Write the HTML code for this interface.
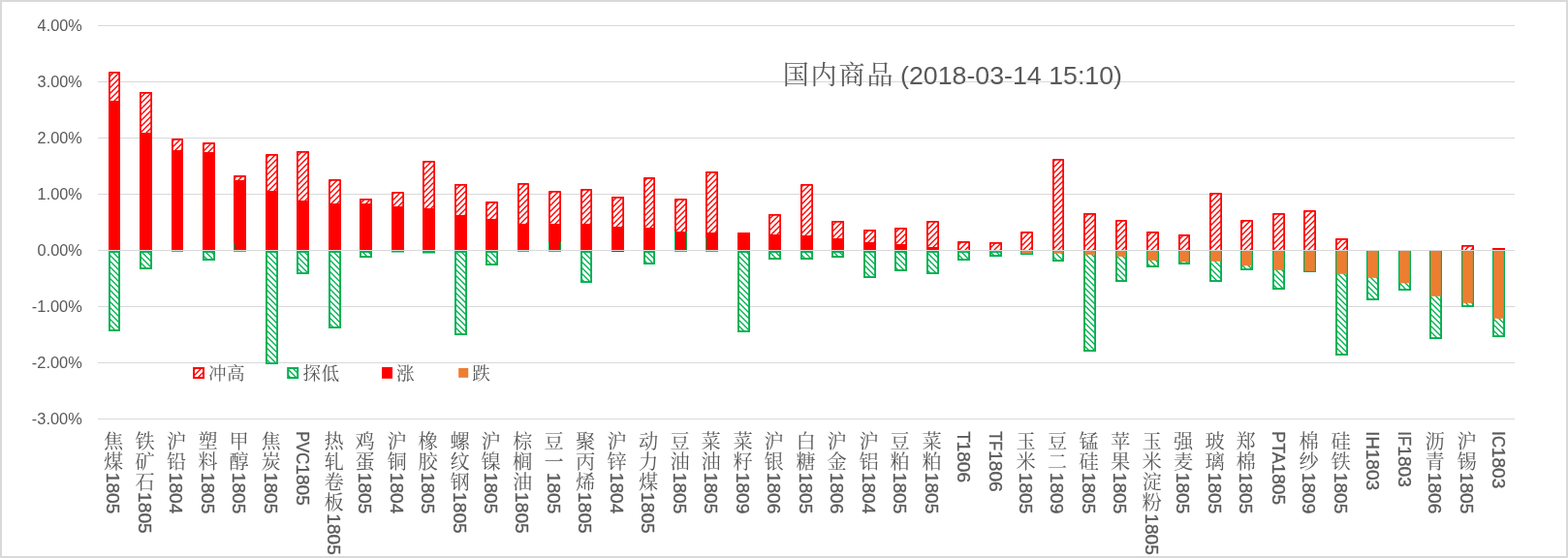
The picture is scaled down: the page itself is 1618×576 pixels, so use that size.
<!DOCTYPE html>
<html lang="zh"><head><meta charset="utf-8"><title>国内商品</title>
<style>html,body{margin:0;padding:0;background:#fff}body{width:1618px;height:576px;overflow:hidden}svg{display:block}text{font-family:"Liberation Sans",sans-serif;fill:#595959}.c{font-family:"Liberation Sans","Noto Serif CJK SC",serif;font-size:20.2px}.lg{font-family:"Liberation Sans","Noto Serif CJK SC",serif;font-size:18.6px}.tt{font-family:"Liberation Sans","Noto Serif CJK SC",serif;font-size:27px}</style></head><body>
<svg width="1618" height="576" viewBox="0 0 1618 576">
<defs>
<pattern id="pr" width="6" height="6" patternUnits="userSpaceOnUse"><rect width="6" height="6" fill="#fff"/><path d="M-1 7L7 -1M-1 1L1 -1M5 7L7 5" stroke="#ff0000" stroke-width="1.4"/></pattern>
<pattern id="pg" width="6" height="6" patternUnits="userSpaceOnUse"><rect width="6" height="6" fill="#fff"/><path d="M-1 -1L7 7M5 -1L7 1M-1 5L1 7" stroke="#00b050" stroke-width="1.35"/></pattern>
<filter id="gs" x="0" y="0" width="1618" height="576" filterUnits="userSpaceOnUse" color-interpolation-filters="sRGB"><feColorMatrix type="saturate" values="0"/></filter>
</defs>
<rect width="1618" height="576" fill="#fff"/>
<rect x="1" y="1" width="1616" height="574" fill="none" stroke="#d9d9d9" stroke-width="2"/>
<rect x="101" y="26" width="1462" height="1" fill="#d9d9d9"/>
<rect x="101" y="84" width="1462" height="1" fill="#d9d9d9"/>
<rect x="101" y="142" width="1462" height="1" fill="#d9d9d9"/>
<rect x="101" y="200" width="1462" height="1" fill="#d9d9d9"/>
<rect x="101" y="258" width="1462" height="1" fill="#d9d9d9"/>
<rect x="101" y="316" width="1462" height="1" fill="#d9d9d9"/>
<rect x="101" y="374" width="1462" height="1" fill="#d9d9d9"/>
<rect x="101" y="432" width="1462" height="1" fill="#d9d9d9"/>
<rect x="112.95" y="259.95" width="10.1" height="81.1" fill="url(#pg)" stroke="#00b050" stroke-width="1.9"/>
<rect x="112" y="104" width="12" height="154" fill="#ff0000"/>
<rect x="112" y="74" width="12" height="30" fill="url(#pr)"/>
<path d="M112.9 104V74.9H123.1V104" fill="none" stroke="#ff0000" stroke-width="1.8" stroke-linejoin="round"/>
<rect x="144.95" y="259.95" width="11.1" height="17.1" fill="url(#pg)" stroke="#00b050" stroke-width="1.9"/>
<rect x="144" y="137" width="13" height="121" fill="#ff0000"/>
<rect x="144" y="95" width="13" height="42" fill="url(#pr)"/>
<path d="M144.9 137V95.9H156.1V137" fill="none" stroke="#ff0000" stroke-width="1.8" stroke-linejoin="round"/>
<rect x="177" y="258.5" width="12" height="1.3" fill="#00b050"/>
<rect x="177" y="155" width="12" height="103" fill="#ff0000"/>
<rect x="177" y="143" width="12" height="12" fill="url(#pr)"/>
<path d="M177.9 155V143.9H188.1V155" fill="none" stroke="#ff0000" stroke-width="1.8" stroke-linejoin="round"/>
<rect x="209.95" y="259.95" width="11.1" height="8.1" fill="url(#pg)" stroke="#00b050" stroke-width="1.9"/>
<rect x="209" y="157" width="13" height="101" fill="#ff0000"/>
<rect x="209" y="147" width="13" height="10" fill="url(#pr)"/>
<path d="M209.9 157V147.9H221.1V157" fill="none" stroke="#ff0000" stroke-width="1.8" stroke-linejoin="round"/>
<rect x="241" y="258.5" width="13" height="1.3" fill="#00b050"/>
<rect x="241" y="186" width="13" height="72" fill="#ff0000"/>
<rect x="241" y="181" width="13" height="5" fill="url(#pr)"/>
<path d="M241.9 186V181.9H253.1V186" fill="none" stroke="#ff0000" stroke-width="1.8" stroke-linejoin="round"/>
<rect x="274.95" y="259.95" width="11.1" height="115.1" fill="url(#pg)" stroke="#00b050" stroke-width="1.9"/>
<rect x="274" y="197" width="13" height="61" fill="#ff0000"/>
<rect x="274" y="159" width="13" height="38" fill="url(#pr)"/>
<path d="M274.9 197V159.9H286.1V197" fill="none" stroke="#ff0000" stroke-width="1.8" stroke-linejoin="round"/>
<rect x="306.95" y="259.95" width="11.1" height="22.1" fill="url(#pg)" stroke="#00b050" stroke-width="1.9"/>
<rect x="306" y="207" width="13" height="51" fill="#ff0000"/>
<rect x="306" y="156" width="13" height="51" fill="url(#pr)"/>
<path d="M306.9 207V156.9H318.1V207" fill="none" stroke="#ff0000" stroke-width="1.8" stroke-linejoin="round"/>
<rect x="339.95" y="259.95" width="11.1" height="78.1" fill="url(#pg)" stroke="#00b050" stroke-width="1.9"/>
<rect x="339" y="210" width="13" height="48" fill="#ff0000"/>
<rect x="339" y="185" width="13" height="25" fill="url(#pr)"/>
<path d="M339.9 210V185.9H351.1V210" fill="none" stroke="#ff0000" stroke-width="1.8" stroke-linejoin="round"/>
<rect x="371.95" y="259.95" width="11.1" height="5.1" fill="url(#pg)" stroke="#00b050" stroke-width="1.9"/>
<rect x="371" y="210" width="13" height="48" fill="#ff0000"/>
<rect x="371" y="205" width="13" height="5" fill="url(#pr)"/>
<path d="M371.9 210V205.9H383.1V210" fill="none" stroke="#ff0000" stroke-width="1.8" stroke-linejoin="round"/>
<rect x="404" y="258.5" width="13" height="2" fill="#00b050"/>
<rect x="404" y="213" width="13" height="45" fill="#ff0000"/>
<rect x="404" y="198" width="13" height="15" fill="url(#pr)"/>
<path d="M404.9 213V198.9H416.1V213" fill="none" stroke="#ff0000" stroke-width="1.8" stroke-linejoin="round"/>
<rect x="436" y="258.5" width="13" height="3" fill="#00b050"/>
<rect x="436" y="215" width="13" height="43" fill="#ff0000"/>
<rect x="436" y="166" width="13" height="49" fill="url(#pr)"/>
<path d="M436.9 215V166.9H448.1V215" fill="none" stroke="#ff0000" stroke-width="1.8" stroke-linejoin="round"/>
<rect x="469.95" y="259.95" width="11.1" height="85.1" fill="url(#pg)" stroke="#00b050" stroke-width="1.9"/>
<rect x="469" y="222" width="13" height="36" fill="#ff0000"/>
<rect x="469" y="190" width="13" height="32" fill="url(#pr)"/>
<path d="M469.9 222V190.9H481.1V222" fill="none" stroke="#ff0000" stroke-width="1.8" stroke-linejoin="round"/>
<rect x="501.95" y="259.95" width="11.1" height="13.1" fill="url(#pg)" stroke="#00b050" stroke-width="1.9"/>
<rect x="501" y="226" width="13" height="32" fill="#ff0000"/>
<rect x="501" y="208" width="13" height="18" fill="url(#pr)"/>
<path d="M501.9 226V208.9H513.1V226" fill="none" stroke="#ff0000" stroke-width="1.8" stroke-linejoin="round"/>
<rect x="534" y="258.5" width="12" height="1.3" fill="#00b050"/>
<rect x="534" y="231" width="12" height="27" fill="#ff0000"/>
<rect x="534" y="189" width="12" height="42" fill="url(#pr)"/>
<path d="M534.9 231V189.9H545.1V231" fill="none" stroke="#ff0000" stroke-width="1.8" stroke-linejoin="round"/>
<rect x="566" y="258.5" width="13" height="1.3" fill="#00b050"/>
<rect x="566" y="231" width="13" height="27" fill="#ff0000"/>
<rect x="566" y="197" width="13" height="34" fill="url(#pr)"/>
<path d="M566.9 231V197.9H578.1V231" fill="none" stroke="#ff0000" stroke-width="1.8" stroke-linejoin="round"/>
<rect x="599.95" y="259.95" width="10.1" height="31.1" fill="url(#pg)" stroke="#00b050" stroke-width="1.9"/>
<rect x="599" y="231" width="12" height="27" fill="#ff0000"/>
<rect x="599" y="195" width="12" height="36" fill="url(#pr)"/>
<path d="M599.9 231V195.9H610.1V231" fill="none" stroke="#ff0000" stroke-width="1.8" stroke-linejoin="round"/>
<rect x="631" y="234" width="13" height="24" fill="#ff0000"/>
<rect x="631" y="203" width="13" height="31" fill="url(#pr)"/>
<path d="M631.9 234V203.9H643.1V234" fill="none" stroke="#ff0000" stroke-width="1.8" stroke-linejoin="round"/>
<rect x="664.95" y="259.95" width="10.1" height="12.1" fill="url(#pg)" stroke="#00b050" stroke-width="1.9"/>
<rect x="664" y="235" width="12" height="23" fill="#ff0000"/>
<rect x="664" y="183" width="12" height="52" fill="url(#pr)"/>
<path d="M664.9 235V183.9H675.1V235" fill="none" stroke="#ff0000" stroke-width="1.8" stroke-linejoin="round"/>
<rect x="696" y="258.5" width="13" height="1.3" fill="#00b050"/>
<rect x="696" y="239" width="13" height="19" fill="#ff0000"/>
<rect x="696" y="205" width="13" height="34" fill="url(#pr)"/>
<path d="M696.9 239V205.9H708.1V239" fill="none" stroke="#ff0000" stroke-width="1.8" stroke-linejoin="round"/>
<rect x="728" y="258.5" width="13" height="1.3" fill="#00b050"/>
<rect x="728" y="240" width="13" height="18" fill="#ff0000"/>
<rect x="728" y="177" width="13" height="63" fill="url(#pr)"/>
<path d="M728.9 240V177.9H740.1V240" fill="none" stroke="#ff0000" stroke-width="1.8" stroke-linejoin="round"/>
<rect x="761.95" y="259.95" width="11.1" height="82.1" fill="url(#pg)" stroke="#00b050" stroke-width="1.9"/>
<rect x="761" y="240" width="13" height="18" fill="#ff0000"/>
<rect x="793.95" y="259.95" width="11.1" height="7.1" fill="url(#pg)" stroke="#00b050" stroke-width="1.9"/>
<rect x="793" y="242" width="13" height="16" fill="#ff0000"/>
<rect x="793" y="221" width="13" height="21" fill="url(#pr)"/>
<path d="M793.9 242V221.9H805.1V242" fill="none" stroke="#ff0000" stroke-width="1.8" stroke-linejoin="round"/>
<rect x="826.95" y="259.95" width="11.1" height="7.1" fill="url(#pg)" stroke="#00b050" stroke-width="1.9"/>
<rect x="826" y="243" width="13" height="15" fill="#ff0000"/>
<rect x="826" y="190" width="13" height="53" fill="url(#pr)"/>
<path d="M826.9 243V190.9H838.1V243" fill="none" stroke="#ff0000" stroke-width="1.8" stroke-linejoin="round"/>
<rect x="858.95" y="259.95" width="11.1" height="5.1" fill="url(#pg)" stroke="#00b050" stroke-width="1.9"/>
<rect x="858" y="246" width="13" height="12" fill="#ff0000"/>
<rect x="858" y="228" width="13" height="18" fill="url(#pr)"/>
<path d="M858.9 246V228.9H870.1V246" fill="none" stroke="#ff0000" stroke-width="1.8" stroke-linejoin="round"/>
<rect x="891.95" y="259.95" width="11.1" height="26.1" fill="url(#pg)" stroke="#00b050" stroke-width="1.9"/>
<rect x="891" y="250" width="13" height="8" fill="#ff0000"/>
<rect x="891" y="237" width="13" height="13" fill="url(#pr)"/>
<path d="M891.9 250V237.9H903.1V250" fill="none" stroke="#ff0000" stroke-width="1.8" stroke-linejoin="round"/>
<rect x="923.95" y="259.95" width="11.1" height="19.1" fill="url(#pg)" stroke="#00b050" stroke-width="1.9"/>
<rect x="923" y="252" width="13" height="6" fill="#ff0000"/>
<rect x="923" y="235" width="13" height="17" fill="url(#pr)"/>
<path d="M923.9 252V235.9H935.1V252" fill="none" stroke="#ff0000" stroke-width="1.8" stroke-linejoin="round"/>
<rect x="956.95" y="259.95" width="11.1" height="22.1" fill="url(#pg)" stroke="#00b050" stroke-width="1.9"/>
<rect x="956" y="255" width="13" height="3" fill="#ff0000"/>
<rect x="956" y="228" width="13" height="27" fill="url(#pr)"/>
<path d="M956.9 255V228.9H968.1V255" fill="none" stroke="#ff0000" stroke-width="1.8" stroke-linejoin="round"/>
<rect x="988.95" y="259.95" width="11.1" height="8.1" fill="url(#pg)" stroke="#00b050" stroke-width="1.9"/>
<rect x="989.2" y="259" width="10.6" height="0.6" fill="#ed7d31"/>
<rect x="988" y="249" width="13" height="9" fill="url(#pr)"/>
<path d="M988.9 258V249.9H1000.1V258" fill="none" stroke="#ff0000" stroke-width="1.8" stroke-linejoin="round"/>
<rect x="1021.95" y="259.95" width="11.1" height="4.1" fill="url(#pg)" stroke="#00b050" stroke-width="1.9"/>
<rect x="1022.2" y="259" width="10.6" height="0.6" fill="#ed7d31"/>
<rect x="1021" y="250" width="13" height="8" fill="url(#pr)"/>
<path d="M1021.9 258V250.9H1033.1V258" fill="none" stroke="#ff0000" stroke-width="1.8" stroke-linejoin="round"/>
<rect x="1053.95" y="259.95" width="11.1" height="2.1" fill="url(#pg)" stroke="#00b050" stroke-width="1.9"/>
<rect x="1054.2" y="259" width="10.6" height="2.8" fill="#ed7d31"/>
<rect x="1053" y="239" width="13" height="19" fill="url(#pr)"/>
<path d="M1053.9 258V239.9H1065.1V258" fill="none" stroke="#ff0000" stroke-width="1.8" stroke-linejoin="round"/>
<rect x="1086.95" y="259.95" width="10.1" height="9.1" fill="url(#pg)" stroke="#00b050" stroke-width="1.9"/>
<rect x="1087.2" y="259" width="9.6" height="2.6" fill="#ed7d31"/>
<rect x="1086" y="164" width="12" height="94" fill="url(#pr)"/>
<path d="M1086.9 258V164.9H1097.1V258" fill="none" stroke="#ff0000" stroke-width="1.8" stroke-linejoin="round"/>
<rect x="1118.95" y="259.95" width="11.1" height="102.1" fill="url(#pg)" stroke="#00b050" stroke-width="1.9"/>
<rect x="1119.2" y="259" width="10.6" height="3.8" fill="#ed7d31"/>
<rect x="1118" y="220" width="13" height="38" fill="url(#pr)"/>
<path d="M1118.9 258V220.9H1130.1V258" fill="none" stroke="#ff0000" stroke-width="1.8" stroke-linejoin="round"/>
<rect x="1151.95" y="259.95" width="10.1" height="30.1" fill="url(#pg)" stroke="#00b050" stroke-width="1.9"/>
<rect x="1152.2" y="259" width="9.6" height="5.8" fill="#ed7d31"/>
<rect x="1151" y="227" width="12" height="31" fill="url(#pr)"/>
<path d="M1151.9 258V227.9H1162.1V258" fill="none" stroke="#ff0000" stroke-width="1.8" stroke-linejoin="round"/>
<rect x="1183.95" y="259.95" width="11.1" height="15.1" fill="url(#pg)" stroke="#00b050" stroke-width="1.9"/>
<rect x="1184.2" y="259" width="10.6" height="9.8" fill="#ed7d31"/>
<rect x="1183" y="239" width="13" height="19" fill="url(#pr)"/>
<path d="M1183.9 258V239.9H1195.1V258" fill="none" stroke="#ff0000" stroke-width="1.8" stroke-linejoin="round"/>
<rect x="1216.95" y="259.95" width="10.1" height="12.1" fill="url(#pg)" stroke="#00b050" stroke-width="1.9"/>
<rect x="1217.2" y="259" width="9.6" height="11.3" fill="#ed7d31"/>
<rect x="1216" y="242" width="12" height="16" fill="url(#pr)"/>
<path d="M1216.9 258V242.9H1227.1V258" fill="none" stroke="#ff0000" stroke-width="1.8" stroke-linejoin="round"/>
<rect x="1248.95" y="259.95" width="11.1" height="30.1" fill="url(#pg)" stroke="#00b050" stroke-width="1.9"/>
<rect x="1249.2" y="259" width="10.6" height="10.8" fill="#ed7d31"/>
<rect x="1248" y="199" width="13" height="59" fill="url(#pr)"/>
<path d="M1248.9 258V199.9H1260.1V258" fill="none" stroke="#ff0000" stroke-width="1.8" stroke-linejoin="round"/>
<rect x="1280.95" y="259.95" width="11.1" height="18.1" fill="url(#pg)" stroke="#00b050" stroke-width="1.9"/>
<rect x="1281.2" y="259" width="10.6" height="15.3" fill="#ed7d31"/>
<rect x="1280" y="227" width="13" height="31" fill="url(#pr)"/>
<path d="M1280.9 258V227.9H1292.1V258" fill="none" stroke="#ff0000" stroke-width="1.8" stroke-linejoin="round"/>
<rect x="1313.95" y="259.95" width="11.1" height="38.1" fill="url(#pg)" stroke="#00b050" stroke-width="1.9"/>
<rect x="1314.2" y="259" width="10.6" height="19.8" fill="#ed7d31"/>
<rect x="1313" y="220" width="13" height="38" fill="url(#pr)"/>
<path d="M1313.9 258V220.9H1325.1V258" fill="none" stroke="#ff0000" stroke-width="1.8" stroke-linejoin="round"/>
<rect x="1345.95" y="259.95" width="11.1" height="20.1" fill="url(#pg)" stroke="#00b050" stroke-width="1.9"/>
<rect x="1346.2" y="259" width="10.6" height="20.8" fill="#ed7d31"/>
<rect x="1345" y="217" width="13" height="41" fill="url(#pr)"/>
<path d="M1345.9 258V217.9H1357.1V258" fill="none" stroke="#ff0000" stroke-width="1.8" stroke-linejoin="round"/>
<rect x="1378.95" y="259.95" width="11.1" height="106.1" fill="url(#pg)" stroke="#00b050" stroke-width="1.9"/>
<rect x="1379.2" y="259" width="10.6" height="23.8" fill="#ed7d31"/>
<rect x="1378" y="246" width="13" height="12" fill="url(#pr)"/>
<path d="M1378.9 258V246.9H1390.1V258" fill="none" stroke="#ff0000" stroke-width="1.8" stroke-linejoin="round"/>
<rect x="1410.95" y="259.95" width="11.1" height="49.1" fill="url(#pg)" stroke="#00b050" stroke-width="1.9"/>
<rect x="1411.2" y="259" width="10.6" height="27.8" fill="#ed7d31"/>
<rect x="1443.95" y="259.95" width="11.1" height="39.1" fill="url(#pg)" stroke="#00b050" stroke-width="1.9"/>
<rect x="1444.2" y="259" width="10.6" height="33.3" fill="#ed7d31"/>
<rect x="1475.95" y="259.95" width="11.1" height="89.1" fill="url(#pg)" stroke="#00b050" stroke-width="1.9"/>
<rect x="1476.2" y="259" width="10.6" height="46.8" fill="#ed7d31"/>
<rect x="1508.95" y="259.95" width="11.1" height="56.1" fill="url(#pg)" stroke="#00b050" stroke-width="1.9"/>
<rect x="1509.2" y="259" width="10.6" height="53.8" fill="#ed7d31"/>
<rect x="1508" y="253" width="13" height="5" fill="url(#pr)"/>
<path d="M1508.9 258V253.9H1520.1V258" fill="none" stroke="#ff0000" stroke-width="1.8" stroke-linejoin="round"/>
<rect x="1540.95" y="259.95" width="11.1" height="87.1" fill="url(#pg)" stroke="#00b050" stroke-width="1.9"/>
<rect x="1541.2" y="259" width="10.6" height="69.8" fill="#ed7d31"/>
<rect x="1540" y="256" width="13" height="2" fill="#ff0000"/>
<rect x="631" y="259" width="13" height="1" fill="#ff0000"/>
<rect x="241" y="251" width="1" height="7.5" fill="#00b050"/>
<rect x="566" y="250" width="1" height="8.5" fill="#00b050"/>
<rect x="578" y="250" width="1" height="8.5" fill="#00b050"/>
<rect x="696" y="239" width="1" height="19.5" fill="#00b050"/>
<rect x="708" y="239" width="1" height="19.5" fill="#00b050"/>
<rect x="728" y="245" width="1" height="13.5" fill="#00b050"/>
<rect x="101" y="258" width="1462" height="1" fill="#d9d9d9"/>
<rect x="200" y="380" width="10" height="10" fill="url(#pr)" stroke="#ff0000" stroke-width="2"/>
<rect x="297.2" y="380" width="10" height="10" fill="url(#pg)" stroke="#00b050" stroke-width="2"/>
<rect x="394" y="379" width="11" height="11.8" fill="#ff0000"/>
<rect x="473.2" y="380" width="10" height="9.8" fill="#ed7d31"/>
<g filter="url(#gs)">
<text x="84.8" y="32.4" font-size="16.6" text-anchor="end" textLength="46.2" lengthAdjust="spacingAndGlyphs">4.00%</text>
<text x="84.8" y="90.4" font-size="16.6" text-anchor="end" textLength="46.2" lengthAdjust="spacingAndGlyphs">3.00%</text>
<text x="84.8" y="148.4" font-size="16.6" text-anchor="end" textLength="46.2" lengthAdjust="spacingAndGlyphs">2.00%</text>
<text x="84.8" y="206.4" font-size="16.6" text-anchor="end" textLength="46.2" lengthAdjust="spacingAndGlyphs">1.00%</text>
<text x="84.8" y="264.4" font-size="16.6" text-anchor="end" textLength="46.2" lengthAdjust="spacingAndGlyphs">0.00%</text>
<text x="84.8" y="322.4" font-size="16.6" text-anchor="end" textLength="52" lengthAdjust="spacingAndGlyphs">-1.00%</text>
<text x="84.8" y="380.4" font-size="16.6" text-anchor="end" textLength="52" lengthAdjust="spacingAndGlyphs">-2.00%</text>
<text x="84.8" y="438.4" font-size="16.6" text-anchor="end" textLength="52" lengthAdjust="spacingAndGlyphs">-3.00%</text>
<text class="c" x="107.1" y="462.8">焦<tspan x="107.1" dy="21">煤</tspan></text>
<g transform="translate(110.3 487.8) rotate(90)" font-size="18.8" stroke="#595959" stroke-width="0.35"><text x="0" textLength="42.6" lengthAdjust="spacingAndGlyphs">1805</text></g>
<text class="c" x="139.6" y="462.8">铁<tspan x="139.6" dy="21">矿</tspan><tspan x="139.6" dy="21">石</tspan></text>
<g transform="translate(142.8 508.1) rotate(90)" font-size="18.8" stroke="#595959" stroke-width="0.35"><text x="0" textLength="42.6" lengthAdjust="spacingAndGlyphs">1805</text></g>
<text class="c" x="172.1" y="462.8">沪<tspan x="172.1" dy="21">铅</tspan></text>
<g transform="translate(175.3 487.8) rotate(90)" font-size="18.8" stroke="#595959" stroke-width="0.35"><text x="0" textLength="42.6" lengthAdjust="spacingAndGlyphs">1804</text></g>
<text class="c" x="204.6" y="462.8">塑<tspan x="204.6" dy="21">料</tspan></text>
<g transform="translate(207.8 487.8) rotate(90)" font-size="18.8" stroke="#595959" stroke-width="0.35"><text x="0" textLength="42.6" lengthAdjust="spacingAndGlyphs">1805</text></g>
<text class="c" x="236.6" y="462.8">甲<tspan x="236.6" dy="21">醇</tspan></text>
<g transform="translate(239.8 487.8) rotate(90)" font-size="18.8" stroke="#595959" stroke-width="0.35"><text x="0" textLength="42.6" lengthAdjust="spacingAndGlyphs">1805</text></g>
<text class="c" x="269.6" y="462.8">焦<tspan x="269.6" dy="21">炭</tspan></text>
<g transform="translate(272.8 487.8) rotate(90)" font-size="18.8" stroke="#595959" stroke-width="0.35"><text x="0" textLength="42.6" lengthAdjust="spacingAndGlyphs">1805</text></g>
<g transform="translate(305.9 445.3) rotate(90)" font-size="18.8" stroke="#595959" stroke-width="0.35"><text textLength="33.98" lengthAdjust="spacingAndGlyphs">PVC</text><text x="33.98" textLength="42.6" lengthAdjust="spacingAndGlyphs">1805</text></g>
<text class="c" x="334.6" y="462.8">热<tspan x="334.6" dy="21">轧</tspan><tspan x="334.6" dy="21">卷</tspan><tspan x="334.6" dy="21">板</tspan></text>
<g transform="translate(337.8 530.3) rotate(90)" font-size="18.8" stroke="#595959" stroke-width="0.35"><text x="0" textLength="42.6" lengthAdjust="spacingAndGlyphs">1805</text></g>
<text class="c" x="366.6" y="462.8">鸡<tspan x="366.6" dy="21">蛋</tspan></text>
<g transform="translate(369.8 487.8) rotate(90)" font-size="18.8" stroke="#595959" stroke-width="0.35"><text x="0" textLength="42.6" lengthAdjust="spacingAndGlyphs">1805</text></g>
<text class="c" x="399.6" y="462.8">沪<tspan x="399.6" dy="21">铜</tspan></text>
<g transform="translate(402.8 487.8) rotate(90)" font-size="18.8" stroke="#595959" stroke-width="0.35"><text x="0" textLength="42.6" lengthAdjust="spacingAndGlyphs">1804</text></g>
<text class="c" x="431.6" y="462.8">橡<tspan x="431.6" dy="21">胶</tspan></text>
<g transform="translate(434.8 487.8) rotate(90)" font-size="18.8" stroke="#595959" stroke-width="0.35"><text x="0" textLength="42.6" lengthAdjust="spacingAndGlyphs">1805</text></g>
<text class="c" x="464.6" y="462.8">螺<tspan x="464.6" dy="21">纹</tspan><tspan x="464.6" dy="21">钢</tspan></text>
<g transform="translate(467.8 508.1) rotate(90)" font-size="18.8" stroke="#595959" stroke-width="0.35"><text x="0" textLength="42.6" lengthAdjust="spacingAndGlyphs">1805</text></g>
<text class="c" x="496.6" y="462.8">沪<tspan x="496.6" dy="21">镍</tspan></text>
<g transform="translate(499.8 487.8) rotate(90)" font-size="18.8" stroke="#595959" stroke-width="0.35"><text x="0" textLength="42.6" lengthAdjust="spacingAndGlyphs">1805</text></g>
<text class="c" x="529.1" y="462.8">棕<tspan x="529.1" dy="21">榈</tspan><tspan x="529.1" dy="21">油</tspan></text>
<g transform="translate(532.3 508.1) rotate(90)" font-size="18.8" stroke="#595959" stroke-width="0.35"><text x="0" textLength="42.6" lengthAdjust="spacingAndGlyphs">1805</text></g>
<text class="c" x="561.6" y="462.8">豆<tspan x="561.6" dy="21">一</tspan></text>
<g transform="translate(564.8 487.8) rotate(90)" font-size="18.8" stroke="#595959" stroke-width="0.35"><text x="0" textLength="42.6" lengthAdjust="spacingAndGlyphs">1805</text></g>
<text class="c" x="594.1" y="462.8">聚<tspan x="594.1" dy="21">丙</tspan><tspan x="594.1" dy="21">烯</tspan></text>
<g transform="translate(597.3 508.1) rotate(90)" font-size="18.8" stroke="#595959" stroke-width="0.35"><text x="0" textLength="42.6" lengthAdjust="spacingAndGlyphs">1805</text></g>
<text class="c" x="626.6" y="462.8">沪<tspan x="626.6" dy="21">锌</tspan></text>
<g transform="translate(629.8 487.8) rotate(90)" font-size="18.8" stroke="#595959" stroke-width="0.35"><text x="0" textLength="42.6" lengthAdjust="spacingAndGlyphs">1804</text></g>
<text class="c" x="659.1" y="462.8">动<tspan x="659.1" dy="21">力</tspan><tspan x="659.1" dy="21">煤</tspan></text>
<g transform="translate(662.3 508.1) rotate(90)" font-size="18.8" stroke="#595959" stroke-width="0.35"><text x="0" textLength="42.6" lengthAdjust="spacingAndGlyphs">1805</text></g>
<text class="c" x="691.6" y="462.8">豆<tspan x="691.6" dy="21">油</tspan></text>
<g transform="translate(694.8 487.8) rotate(90)" font-size="18.8" stroke="#595959" stroke-width="0.35"><text x="0" textLength="42.6" lengthAdjust="spacingAndGlyphs">1805</text></g>
<text class="c" x="723.6" y="462.8">菜<tspan x="723.6" dy="21">油</tspan></text>
<g transform="translate(726.8 487.8) rotate(90)" font-size="18.8" stroke="#595959" stroke-width="0.35"><text x="0" textLength="42.6" lengthAdjust="spacingAndGlyphs">1805</text></g>
<text class="c" x="756.6" y="462.8">菜<tspan x="756.6" dy="21">籽</tspan></text>
<g transform="translate(759.8 487.8) rotate(90)" font-size="18.8" stroke="#595959" stroke-width="0.35"><text x="0" textLength="42.6" lengthAdjust="spacingAndGlyphs">1809</text></g>
<text class="c" x="788.6" y="462.8">沪<tspan x="788.6" dy="21">银</tspan></text>
<g transform="translate(791.8 487.8) rotate(90)" font-size="18.8" stroke="#595959" stroke-width="0.35"><text x="0" textLength="42.6" lengthAdjust="spacingAndGlyphs">1806</text></g>
<text class="c" x="821.6" y="462.8">白<tspan x="821.6" dy="21">糖</tspan></text>
<g transform="translate(824.8 487.8) rotate(90)" font-size="18.8" stroke="#595959" stroke-width="0.35"><text x="0" textLength="42.6" lengthAdjust="spacingAndGlyphs">1805</text></g>
<text class="c" x="853.6" y="462.8">沪<tspan x="853.6" dy="21">金</tspan></text>
<g transform="translate(856.8 487.8) rotate(90)" font-size="18.8" stroke="#595959" stroke-width="0.35"><text x="0" textLength="42.6" lengthAdjust="spacingAndGlyphs">1806</text></g>
<text class="c" x="886.6" y="462.8">沪<tspan x="886.6" dy="21">铝</tspan></text>
<g transform="translate(889.8 487.8) rotate(90)" font-size="18.8" stroke="#595959" stroke-width="0.35"><text x="0" textLength="42.6" lengthAdjust="spacingAndGlyphs">1804</text></g>
<text class="c" x="918.6" y="462.8">豆<tspan x="918.6" dy="21">粕</tspan></text>
<g transform="translate(921.8 487.8) rotate(90)" font-size="18.8" stroke="#595959" stroke-width="0.35"><text x="0" textLength="42.6" lengthAdjust="spacingAndGlyphs">1805</text></g>
<text class="c" x="951.6" y="462.8">菜<tspan x="951.6" dy="21">粕</tspan></text>
<g transform="translate(954.8 487.8) rotate(90)" font-size="18.8" stroke="#595959" stroke-width="0.35"><text x="0" textLength="42.6" lengthAdjust="spacingAndGlyphs">1805</text></g>
<g transform="translate(987.9 445.3) rotate(90)" font-size="18.8" stroke="#595959" stroke-width="0.35"><text>T</text><text x="10.24" textLength="42.6" lengthAdjust="spacingAndGlyphs">1806</text></g>
<g transform="translate(1020.9 445.3) rotate(90)" font-size="18.8" stroke="#595959" stroke-width="0.35"><text textLength="19.89" lengthAdjust="spacingAndGlyphs">TF</text><text x="19.89" textLength="42.6" lengthAdjust="spacingAndGlyphs">1806</text></g>
<text class="c" x="1048.6" y="462.8">玉<tspan x="1048.6" dy="21">米</tspan></text>
<g transform="translate(1051.8 487.8) rotate(90)" font-size="18.8" stroke="#595959" stroke-width="0.35"><text x="0" textLength="42.6" lengthAdjust="spacingAndGlyphs">1805</text></g>
<text class="c" x="1081.1" y="462.8">豆<tspan x="1081.1" dy="21">二</tspan></text>
<g transform="translate(1084.3 487.8) rotate(90)" font-size="18.8" stroke="#595959" stroke-width="0.35"><text x="0" textLength="42.6" lengthAdjust="spacingAndGlyphs">1809</text></g>
<text class="c" x="1113.6" y="462.8">锰<tspan x="1113.6" dy="21">硅</tspan></text>
<g transform="translate(1116.8 487.8) rotate(90)" font-size="18.8" stroke="#595959" stroke-width="0.35"><text x="0" textLength="42.6" lengthAdjust="spacingAndGlyphs">1805</text></g>
<text class="c" x="1146.1" y="462.8">苹<tspan x="1146.1" dy="21">果</tspan></text>
<g transform="translate(1149.3 487.8) rotate(90)" font-size="18.8" stroke="#595959" stroke-width="0.35"><text x="0" textLength="42.6" lengthAdjust="spacingAndGlyphs">1805</text></g>
<text class="c" x="1178.6" y="462.8">玉<tspan x="1178.6" dy="21">米</tspan><tspan x="1178.6" dy="21">淀</tspan><tspan x="1178.6" dy="21">粉</tspan></text>
<g transform="translate(1181.8 530.3) rotate(90)" font-size="18.8" stroke="#595959" stroke-width="0.35"><text x="0" textLength="42.6" lengthAdjust="spacingAndGlyphs">1805</text></g>
<text class="c" x="1211.1" y="462.8">强<tspan x="1211.1" dy="21">麦</tspan></text>
<g transform="translate(1214.3 487.8) rotate(90)" font-size="18.8" stroke="#595959" stroke-width="0.35"><text x="0" textLength="42.6" lengthAdjust="spacingAndGlyphs">1805</text></g>
<text class="c" x="1243.6" y="462.8">玻<tspan x="1243.6" dy="21">璃</tspan></text>
<g transform="translate(1246.8 487.8) rotate(90)" font-size="18.8" stroke="#595959" stroke-width="0.35"><text x="0" textLength="42.6" lengthAdjust="spacingAndGlyphs">1805</text></g>
<text class="c" x="1275.6" y="462.8">郑<tspan x="1275.6" dy="21">棉</tspan></text>
<g transform="translate(1278.8 487.8) rotate(90)" font-size="18.8" stroke="#595959" stroke-width="0.35"><text x="0" textLength="42.6" lengthAdjust="spacingAndGlyphs">1805</text></g>
<g transform="translate(1312.9 445.3) rotate(90)" font-size="18.8" stroke="#595959" stroke-width="0.35"><text textLength="33.25" lengthAdjust="spacingAndGlyphs">PTA</text><text x="33.25" textLength="42.6" lengthAdjust="spacingAndGlyphs">1805</text></g>
<text class="c" x="1340.6" y="462.8">棉<tspan x="1340.6" dy="21">纱</tspan></text>
<g transform="translate(1343.8 487.8) rotate(90)" font-size="18.8" stroke="#595959" stroke-width="0.35"><text x="0" textLength="42.6" lengthAdjust="spacingAndGlyphs">1809</text></g>
<text class="c" x="1373.6" y="462.8">硅<tspan x="1373.6" dy="21">铁</tspan></text>
<g transform="translate(1376.8 487.8) rotate(90)" font-size="18.8" stroke="#595959" stroke-width="0.35"><text x="0" textLength="42.6" lengthAdjust="spacingAndGlyphs">1805</text></g>
<g transform="translate(1409.9 445.3) rotate(90)" font-size="18.8" stroke="#595959" stroke-width="0.35"><text textLength="18.39" lengthAdjust="spacingAndGlyphs">IH</text><text x="18.39" textLength="42.6" lengthAdjust="spacingAndGlyphs">1803</text></g>
<g transform="translate(1442.9 445.3) rotate(90)" font-size="18.8" stroke="#595959" stroke-width="0.35"><text textLength="14.95" lengthAdjust="spacingAndGlyphs">IF</text><text x="14.95" textLength="42.6" lengthAdjust="spacingAndGlyphs">1803</text></g>
<text class="c" x="1470.6" y="462.8">沥<tspan x="1470.6" dy="21">青</tspan></text>
<g transform="translate(1473.8 487.8) rotate(90)" font-size="18.8" stroke="#595959" stroke-width="0.35"><text x="0" textLength="42.6" lengthAdjust="spacingAndGlyphs">1806</text></g>
<text class="c" x="1503.6" y="462.8">沪<tspan x="1503.6" dy="21">锡</tspan></text>
<g transform="translate(1506.8 487.8) rotate(90)" font-size="18.8" stroke="#595959" stroke-width="0.35"><text x="0" textLength="42.6" lengthAdjust="spacingAndGlyphs">1805</text></g>
<g transform="translate(1539.9 445.3) rotate(90)" font-size="18.8" stroke="#595959" stroke-width="0.35"><text textLength="16.5" lengthAdjust="spacingAndGlyphs">IC</text><text x="16.5" textLength="42.6" lengthAdjust="spacingAndGlyphs">1803</text></g>
<text class="lg" x="215" y="391.5">冲<tspan x="234">高</tspan></text>
<text class="lg" x="312.5" y="391.5">探<tspan x="331.5">低</tspan></text>
<text class="lg" x="409" y="391.5">涨</text>
<text class="lg" x="487.3" y="391.5">跌</text>
<text class="tt" x="807.7" y="86.9">国<tspan x="836.6">内</tspan><tspan x="865.5">商</tspan><tspan x="894.4">品</tspan></text>
<text x="929" y="87" font-size="26.4" textLength="229" lengthAdjust="spacingAndGlyphs">(2018-03-14 15:10)</text>
</g>
</svg></body></html>
